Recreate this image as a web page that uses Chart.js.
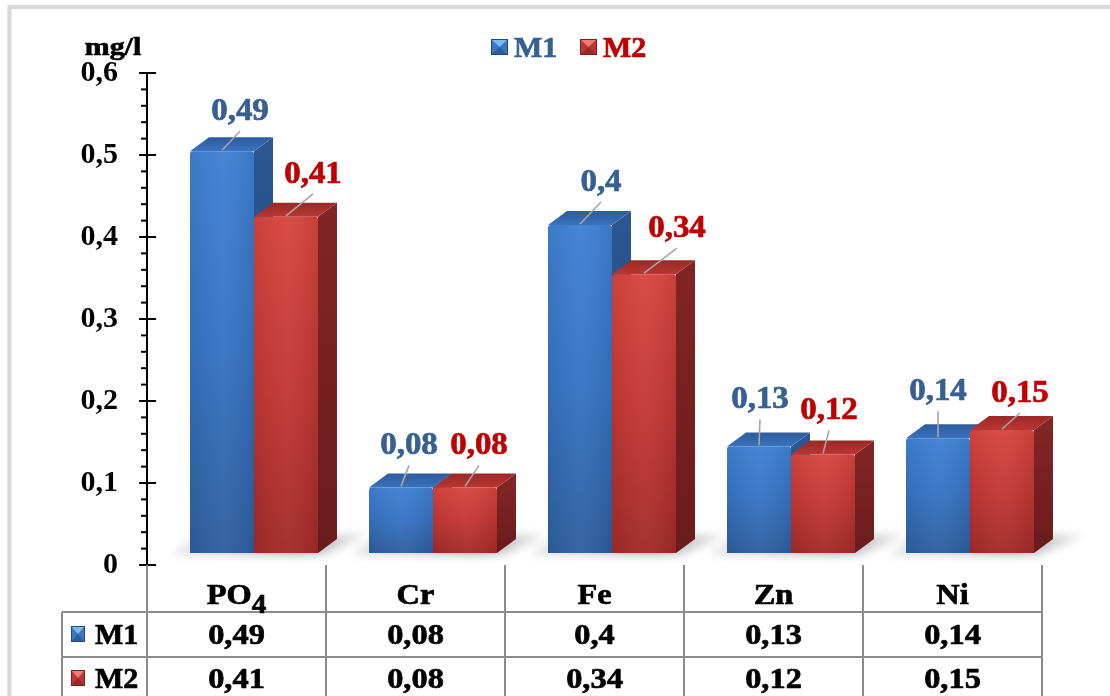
<!DOCTYPE html>
<html>
<head>
<meta charset="utf-8">
<title>M1 / M2 (mg/l)</title>
<style>
  html, body { margin: 0; padding: 0; background: #ffffff; }
  #wrap { width: 1110px; height: 696px; position: relative; }
  canvas { display: block; }
</style>
<script src="https://cdn.jsdelivr.net/npm/chart.js@4.4.0/dist/chart.umd.min.js"></script>
</head>
<body>
<div id="wrap"><canvas id="chart" width="1110" height="696"></canvas></div>
<script>
// ---- data ----
const categories = ['PO₄', 'Cr', 'Fe', 'Zn', 'Ni'];
const seriesNames = ['M1', 'M2'];
const m1Values = [0.49, 0.08, 0.4, 0.13, 0.14];
const m2Values = [0.41, 0.08, 0.34, 0.12, 0.15];
const yTickLabels = ['0', '0,1', '0,2', '0,3', '0,4', '0,5', '0,6'];
const yUnit = 'mg/l';

// ---- look ----
const SERIF = "'Liberation Serif', 'Times New Roman', serif";
const seriesText = ['#376092', '#c00000'];
const palettes = [
  { frontTop: '#3f80d3', frontMid: '#3672c2', frontBot: '#2d5e9f',
    topA: '#3a72bd', topB: '#2c5c9c', sideA: '#2b5690', sideB: '#22477a',
    mLight: '#7db8f2', mBody: '#3b76c2', mDark: '#234a80' },
  { frontTop: '#d8443e', frontMid: '#c23733', frontBot: '#a22a28',
    topA: '#b93633', topB: '#9a2927', sideA: '#812424', sideB: '#6a1b1b',
    mLight: '#ec7a76', mBody: '#bf3532', mDark: '#7a1e1e' }
];
// label placement relative to the front-top centre of each bar
const labelNudge = [
  [[18, -42], [8, -44], [21, -45], [1, -49], [0, -49]],
  [[27, -45], [14, -44], [33, -48], [6, -46], [18, -39]]
];
const DEPTH_X = 19, DEPTH_Y = 14;   // 3D depth of the bars
const SHIFT_X = 17.5, LIFT_Y = 12;  // front faces sit forward of the axis plane
const TXT_SX = 1.08;                // horizontal text stretch

function fmt(v) { return String(v).replace('.', ','); }

function drawText(ctx, str, cx, cy, size, color, align, sx) {
  ctx.save();
  ctx.font = 'bold ' + size + 'px ' + SERIF;
  ctx.fillStyle = color;
  ctx.strokeStyle = color;
  ctx.lineWidth = 0.7;
  ctx.lineJoin = 'round';
  ctx.textBaseline = 'alphabetic';
  ctx.textAlign = align || 'center';
  ctx.translate(cx, cy);
  ctx.scale(sx || TXT_SX, 1);
  ctx.fillText(str, 0, size * 0.34);
  ctx.strokeText(str, 0, size * 0.34);
  ctx.restore();
}

// text with subscript digits (e.g. PO₄)
function drawSubText(ctx, str, cx, cy, size, color) {
  const subs = '₀₁₂₃₄₅₆₇₈₉';
  const parts = [];
  for (const ch of str) {
    const k = subs.indexOf(ch);
    if (k >= 0) parts.push({ t: String(k), sub: true });
    else parts.push({ t: ch, sub: false });
  }
  ctx.save();
  ctx.fillStyle = color;
  ctx.strokeStyle = color;
  ctx.lineWidth = 0.7;
  ctx.textBaseline = 'alphabetic';
  ctx.textAlign = 'left';
  let w = 0;
  parts.forEach(p => {
    ctx.font = 'bold ' + (p.sub ? size * 0.9 : size) + 'px ' + SERIF;
    p.w = ctx.measureText(p.t).width;
    w += p.w;
  });
  ctx.translate(cx, cy);
  ctx.scale(TXT_SX, 1);
  let x = -w / 2;
  parts.forEach(p => {
    ctx.font = 'bold ' + (p.sub ? size * 0.9 : size) + 'px ' + SERIF;
    const by = size * 0.34 + (p.sub ? size * 0.28 : 0);
    ctx.fillText(p.t, x, by);
    ctx.strokeText(p.t, x, by);
    x += p.w;
  });
  ctx.restore();
}

function drawMarker(ctx, x, y, w, h, pal) {
  const cx = x + w / 2, cy = y + h / 2;
  ctx.save();
  ctx.fillStyle = pal.mBody;
  ctx.fillRect(x, y, w, h);
  ctx.fillStyle = pal.mLight;
  ctx.beginPath(); ctx.moveTo(x, y); ctx.lineTo(x + w, y); ctx.lineTo(cx, cy); ctx.closePath(); ctx.fill();
  ctx.fillStyle = pal.mDark;
  ctx.globalAlpha = 0.55;
  ctx.beginPath(); ctx.moveTo(x, y + h); ctx.lineTo(x + w, y + h); ctx.lineTo(cx, cy); ctx.closePath(); ctx.fill();
  ctx.globalAlpha = 1;
  ctx.strokeStyle = pal.mDark;
  ctx.lineWidth = 1;
  ctx.strokeRect(x + 0.5, y + 0.5, w - 1, h - 1);
  ctx.restore();
}

function barGeom(el) {
  const x0 = el.x - el.width / 2 + SHIFT_X;
  return { x0: x0, x1: x0 + el.width, top: el.y - LIFT_Y, bottom: el.base - LIFT_Y };
}

function draw3DBar(ctx, g, pal) {
  const { x0, x1, top, bottom } = g;
  // side face
  let gr = ctx.createLinearGradient(0, top, 0, bottom);
  gr.addColorStop(0, pal.sideA); gr.addColorStop(1, pal.sideB);
  ctx.fillStyle = gr;
  ctx.beginPath();
  ctx.moveTo(x1, top); ctx.lineTo(x1 + DEPTH_X, top - DEPTH_Y);
  ctx.lineTo(x1 + DEPTH_X, bottom - DEPTH_Y); ctx.lineTo(x1, bottom);
  ctx.closePath(); ctx.fill();
  // top face
  gr = ctx.createLinearGradient(0, top - DEPTH_Y, 0, top);
  gr.addColorStop(0, pal.topB); gr.addColorStop(1, pal.topA);
  ctx.fillStyle = gr;
  ctx.beginPath();
  ctx.moveTo(x0, top); ctx.lineTo(x0 + DEPTH_X, top - DEPTH_Y);
  ctx.lineTo(x1 + DEPTH_X, top - DEPTH_Y); ctx.lineTo(x1, top);
  ctx.closePath(); ctx.fill();
  // front face
  gr = ctx.createLinearGradient(0, top, 0, bottom);
  gr.addColorStop(0, pal.frontTop); gr.addColorStop(0.5, pal.frontMid); gr.addColorStop(1, pal.frontBot);
  ctx.fillStyle = gr;
  ctx.beginPath();
  if (ctx.roundRect) ctx.roundRect(x0, top, x1 - x0, bottom - top, [3, 3, 0, 0]);
  else ctx.rect(x0, top, x1 - x0, bottom - top);
  ctx.fill();
  // soft side shading on the front face
  gr = ctx.createLinearGradient(x0, 0, x1, 0);
  gr.addColorStop(0, 'rgba(0,0,0,0.06)'); gr.addColorStop(0.5, 'rgba(255,255,255,0.04)'); gr.addColorStop(1, 'rgba(0,0,0,0.08)');
  ctx.fillStyle = gr;
  ctx.fillRect(x0, top, x1 - x0, bottom - top);
}

const bars3d = {
  id: 'bars3d',
  beforeDatasetsDraw(chart) {
    const ctx = chart.ctx;
    const m0 = chart.getDatasetMeta(0), m1 = chart.getDatasetMeta(1);
    ctx.save();
    ctx.filter = 'blur(5px)';
    m0.data.forEach((el, i) => {
      const a = barGeom(el), b = barGeom(m1.data[i]);
      const gx0 = a.x0, gx1 = b.x1, by = a.bottom;
      const gr = ctx.createLinearGradient(gx0, 0, gx1 + DEPTH_X + 30, 0);
      gr.addColorStop(0, 'rgba(0,0,0,0.12)');
      gr.addColorStop(0.6, 'rgba(0,0,0,0.30)');
      gr.addColorStop(1, 'rgba(0,0,0,0.10)');
      ctx.fillStyle = gr;
      ctx.beginPath();
      ctx.moveTo(gx0 - 18, by + 2);
      ctx.lineTo(gx1 + 4, by + 2);
      ctx.lineTo(gx1 + DEPTH_X + 32, by - DEPTH_Y - 4);
      ctx.lineTo(gx0 + 10, by - DEPTH_Y - 4);
      ctx.closePath();
      ctx.fill();
    });
    ctx.restore();
  },
  afterDatasetsDraw(chart) {
    const ctx = chart.ctx;
    const metas = [chart.getDatasetMeta(0), chart.getDatasetMeta(1)];
    ctx.save();
    for (let i = 0; i < categories.length; i++) {
      metas.forEach((meta, d) => draw3DBar(ctx, barGeom(meta.data[i]), palettes[d]));
    }
    // leader lines and value labels
    metas.forEach((meta, d) => {
      const values = chart.data.datasets[d].data;
      meta.data.forEach((el, i) => {
        const g = barGeom(el);
        const fx = (g.x0 + g.x1) / 2;
        const lx = fx + labelNudge[d][i][0], ly = g.top + labelNudge[d][i][1];
        ctx.strokeStyle = '#a6a6a6';
        ctx.lineWidth = 1.6;
        ctx.beginPath();
        ctx.moveTo(fx, g.top - 1);
        ctx.lineTo(lx, ly + 22);
        ctx.stroke();
        drawText(ctx, fmt(values[i]), lx, ly, 32, seriesText[d], 'center', 1.03);
      });
    });
    ctx.restore();
  },
  afterDraw(chart) {
    const ctx = chart.ctx;
    const y = chart.scales.y, x = chart.scales.x;
    const area = chart.chartArea;
    ctx.save();
    // value axis with major / minor ticks
    ctx.strokeStyle = '#000';
    ctx.lineWidth = 2;
    ctx.beginPath();
    ctx.moveTo(area.left, y.getPixelForValue(y.max) - 1);
    ctx.lineTo(area.left, y.getPixelForValue(0) + 1);
    ctx.stroke();
    y.ticks.forEach(t => {
      const py = y.getPixelForValue(t.value);
      const major = Math.abs(t.value * 10 - Math.round(t.value * 10)) < 1e-6;
      ctx.beginPath();
      if (major) { ctx.moveTo(area.left - 8, py); ctx.lineTo(area.left + 9, py); }
      else { ctx.moveTo(area.left - 6, py); ctx.lineTo(area.left, py); }
      ctx.stroke();
    });
    drawText(ctx, yUnit, 113, 46, 26, '#000', 'center', 1.15);

    // legend
    const lgY = 47;
    drawMarker(ctx, 491, lgY - 8, 17, 16, palettes[0]);
    drawText(ctx, seriesNames[0], 514, lgY, 30, seriesText[0], 'left', 1.0);
    drawMarker(ctx, 580, lgY - 8, 17, 16, palettes[1]);
    drawText(ctx, seriesNames[1], 603, lgY, 30, seriesText[1], 'left', 1.0);

    // data table
    const step = x.getPixelForValue(1) - x.getPixelForValue(0);
    const tLeft = 62, tTop = area.bottom;
    const rowLines = [tTop + 47, tTop + 92, tTop + 135];
    ctx.strokeStyle = '#8c8c8c';
    ctx.lineWidth = 2;
    for (let i = 0; i <= categories.length; i++) {
      const vx = x.getPixelForValue(0) - step / 2 + i * step;
      ctx.beginPath(); ctx.moveTo(vx, tTop); ctx.lineTo(vx, chart.height + 2); ctx.stroke();
    }
    ctx.beginPath(); ctx.moveTo(tLeft, rowLines[0]); ctx.lineTo(tLeft, chart.height + 2); ctx.stroke();
    rowLines.forEach(ry => {
      ctx.beginPath(); ctx.moveTo(tLeft, ry); ctx.lineTo(area.right, ry); ctx.stroke();
    });
    categories.forEach((c, i) => {
      drawSubText(ctx, c, x.getPixelForValue(i), tTop + 29, 30, '#000');
    });
    const rowsData = [m1Values, m2Values];
    const rowCY = [tTop + 69, tTop + 113];
    rowsData.forEach((vals, r) => {
      drawMarker(ctx, 71, rowCY[r] - 8, 14, 16, palettes[r]);
      drawText(ctx, seriesNames[r], 95, rowCY[r], 30, '#000', 'left', 1.0);
      vals.forEach((v, i) => drawText(ctx, fmt(v), x.getPixelForValue(i), rowCY[r], 30, '#000', 'center'));
    });

    // outer frame
    ctx.strokeStyle = '#d9d9d9';
    ctx.lineWidth = 4;
    ctx.beginPath();
    ctx.moveTo(9.5, chart.height + 5);
    ctx.lineTo(9.5, 7);
    ctx.lineTo(chart.width + 5, 7);
    ctx.stroke();
    ctx.restore();
  }
};

new Chart(document.getElementById('chart'), {
  type: 'bar',
  data: {
    labels: categories,
    datasets: [
      { label: seriesNames[0], data: m1Values, backgroundColor: 'rgba(0,0,0,0)', borderWidth: 0 },
      { label: seriesNames[1], data: m2Values, backgroundColor: 'rgba(0,0,0,0)', borderWidth: 0 }
    ]
  },
  options: {
    responsive: false,
    animation: false,
    events: [],
    layout: { padding: { top: 73, right: 68, bottom: 131, left: 0 } },
    datasets: { bar: { categoryPercentage: 0.715, barPercentage: 1 } },
    plugins: { legend: { display: false }, tooltip: { enabled: false } },
    scales: {
      x: { display: false },
      y: {
        min: 0, max: 0.6,
        afterFit(scale) { scale.width = 147; },
        border: { display: false },
        grid: { display: false, drawTicks: false },
        ticks: {
          stepSize: 0.02, maxTicksLimit: 40, autoSkip: false, padding: 29,
          color: '#000',
          font: { family: SERIF, weight: 'bold', size: 30 },
          callback(v) {
            const k = Math.round(v * 10);
            return Math.abs(v * 10 - k) < 1e-6 ? yTickLabels[k] : '';
          }
        }
      }
    }
  },
  plugins: [bars3d]
});
</script>
</body>
</html>
